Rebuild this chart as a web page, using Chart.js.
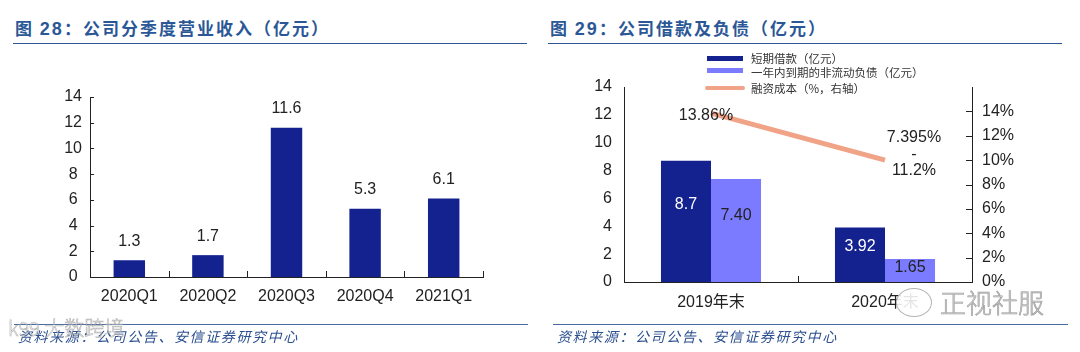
<!DOCTYPE html>
<html><head><meta charset="utf-8">
<script src="https://cdn.jsdelivr.net/npm/chart.js@4"></script>
<style>
body{margin:0;width:1080px;height:352px;background:#fff;position:relative;overflow:hidden;font-family:"Liberation Sans",Arial,"Noto Sans CJK SC",sans-serif;}
.title{position:absolute;top:17px;font-weight:bold;font-size:17px;font-family:"Noto Sans CJK SC",sans-serif;color:#2b5797;letter-spacing:2px;line-height:22px;white-space:nowrap}
.title span{font-family:"Liberation Sans",Arial,sans-serif;font-weight:bold;font-size:18px}
.rule{position:absolute;height:0;border-top:1.5px solid #2b5797}
.frule{position:absolute;height:0;border-top:1px solid #4a6aa5}
.src{position:absolute;top:327px;font-size:14px;line-height:18px;font-style:italic;font-family:"Noto Sans CJK SC",sans-serif;color:#2b4f8f;letter-spacing:1.6px;white-space:nowrap}
.cv{position:absolute;top:50px}
.lgm{position:absolute}
.lgt{position:absolute;font-family:"Noto Sans CJK SC",sans-serif;font-size:11.5px;line-height:14px;color:#333;white-space:nowrap}
.wm{position:absolute;font-family:"Noto Sans CJK SC",sans-serif;font-weight:300;white-space:nowrap}
</style>
</head><body>
<div class="title" style="left:15px">图 <span>28</span>：公司分季度营业收入（亿元）</div>
<div class="rule" style="left:13px;top:43px;width:514px"></div>
<div class="title" style="left:550px">图 <span>29</span>：公司借款及负债（亿元）</div>
<div class="rule" style="left:548px;top:43px;width:514px"></div>

<canvas id="c1" class="cv" width="540" height="280" style="left:0px;width:540px;height:280px"></canvas>
<canvas id="c2" class="cv" width="540" height="280" style="left:540px;width:540px;height:280px"></canvas>
<div id="legend"></div>

<div class="frule" style="left:14px;top:324px;width:514px"></div>
<div class="frule" style="left:553px;top:324px;width:515px"></div>
<div class="src" style="left:18px">资料来源：公司公告、安信证券研究中心</div>
<div class="src" style="left:557px">资料来源：公司公告、安信证券研究中心</div>

<div class="wm" style="left:896px;top:288px;width:34px;height:27px;border:1.5px solid #b5b5b5;border-radius:50%;background:rgba(255,255,255,0.88)"></div>
<div class="wm" style="left:940px;top:286px;font-size:26px;line-height:32px;color:#d0d0d0;-webkit-text-stroke:0.6px #9a9a9a">正视社服</div>
<div class="wm" style="left:8px;top:316px;font-size:20px;line-height:24px;color:rgba(255,255,255,0.5);-webkit-text-stroke:0.6px rgba(130,130,130,0.6)">k99 大数跨境</div>

<script>
// ---------- data ----------
const revCategories = ['2020Q1', '2020Q2', '2020Q3', '2020Q4', '2021Q1'];
const revValues = [1.3, 1.7, 11.6, 5.3, 6.1];
const revLabels = ['1.3', '1.7', '11.6', '5.3', '6.1'];
const revTicks = [0, 2, 4, 6, 8, 10, 12, 14];

const debtCategories = ['2019年末', '2020年末'];
const shortLoans = [8.7, 3.92];
const shortLoanLabels = ['8.7', '3.92'];
const currentNonCurrent = [7.40, 1.65];
const currentNonCurrentLabels = ['7.40', '1.65'];
const financingCost = [13.86, 10.0];
const financingCostLabels = [['13.86%'], ['7.395%', '-', '11.2%']];
const debtTicks = [0, 2, 4, 6, 8, 10, 12, 14];
const costTicks = [0, 2, 4, 6, 8, 10, 12, 14];
const seriesNames = ['短期借款（亿元）', '一年内到期的非流动负债（亿元）', '融资成本（%，右轴）'];

// ---------- styles ----------
const F = '"Liberation Sans", Arial, "Noto Sans CJK SC", sans-serif';
const DARK = '#13228f', LIGHT = '#7b7bff', SALMON = '#f0a386', AX = '#222';

const tickMarks = {
  id: 'tickMarks',
  afterDraw(chart, args, opts) {
    const c = chart.ctx, a = chart.chartArea;
    c.save(); c.strokeStyle = AX; c.lineWidth = 1;
    if (opts.yInward) {
      const s = chart.scales[opts.yInward.id];
      s.ticks.forEach(t => {
        const y = Math.round(s.getPixelForValue(t.value)) + 0.5;
        const x0 = opts.yInward.side === 'left' ? a.left : a.right;
        const d = opts.yInward.side === 'left' ? opts.yInward.len : -opts.yInward.len;
        c.beginPath(); c.moveTo(x0, y); c.lineTo(x0 + d, y); c.stroke();
      });
    }
    if (opts.xBounds) {
      const s = chart.scales.x, n = s.ticks.length;
      for (let i = 0; i <= n; i++) {
        if (opts.xBounds.inner && (i === 0 || i === n)) continue;
        const x = Math.round(a.left + (a.right - a.left) * i / n) + 0.5;
        c.beginPath(); c.moveTo(x, a.bottom); c.lineTo(x, a.bottom - opts.xBounds.len); c.stroke();
      }
    }
    c.restore();
  }
};

const valueLabels = {
  id: 'valueLabels',
  afterDatasetsDraw(chart, args, opts) {
    const c = chart.ctx;
    c.save();
    c.font = '16px ' + F; c.textAlign = 'center'; c.textBaseline = 'middle';
    (opts.sets || []).forEach(st => {
      const meta = chart.getDatasetMeta(st.index);
      meta.data.forEach((el, i) => {
        c.fillStyle = st.color;
        const lines = [].concat(st.labels[i]);
        let x = el.x, y;
        if (st.mode === 'above') y = el.y - 19;
        else if (st.mode === 'inside') y = el.y + (el.base - el.y) * 0.36;
        else { x = el.x + st.offsets[i].dx; y = el.y; }
        lines.forEach((ln, k) => {
          const yy = st.mode === 'point' ? el.y + st.offsets[i].lines[k] : y;
          c.fillText(ln, x, yy);
        });
      });
    });
    c.restore();
  }
};

// ---------- chart 1 ----------
new Chart(document.getElementById('c1'), {
  type: 'bar',
  data: { labels: revCategories, datasets: [{ data: revValues, backgroundColor: DARK, barPercentage: 0.4, categoryPercentage: 1 }] },
  options: {
    responsive: false, animation: false, events: [],
    layout: { padding: { left: 0, right: 57, top: 47, bottom: 0 } },
    plugins: {
      legend: { display: false }, tooltip: { enabled: false },
      tickMarks: { yInward: { id: 'y', side: 'left', len: 4 }, xBounds: { len: 6 } },
      valueLabels: { sets: [{ index: 0, labels: revLabels, color: AX, mode: 'above' }] }
    },
    scales: {
      x: { grid: { display: false, drawTicks: false }, border: { color: AX, width: 1 },
           ticks: { color: AX, font: { size: 16, family: F }, padding: 10 },
           afterFit(s) { s.height = 53; } },
      y: { min: 0, max: 14, grid: { display: false, drawTicks: false }, border: { color: AX, width: 1 },
           afterBuildTicks(s) { s.ticks = revTicks.map(v => ({ value: v })); },
           ticks: { color: AX, font: { size: 16, family: F }, padding: 8, crossAlign: 'center' },
           afterFit(s) { s.width = 90; } }
    }
  },
  plugins: [tickMarks, valueLabels]
});

// ---------- chart 2 ----------
const ch2 = new Chart(document.getElementById('c2'), {
  type: 'bar',
  data: {
    labels: debtCategories,
    datasets: [
      { label: seriesNames[0], data: shortLoans, backgroundColor: DARK, barPercentage: 1, categoryPercentage: 0.575, yAxisID: 'y', order: 2 },
      { label: seriesNames[1], data: currentNonCurrent, backgroundColor: LIGHT, barPercentage: 1, categoryPercentage: 0.575, yAxisID: 'y', order: 2 },
      { label: seriesNames[2], type: 'line', data: financingCost, borderColor: SALMON, borderWidth: 5, pointRadius: 0, fill: false, yAxisID: 'y1', order: 1 }
    ]
  },
  options: {
    responsive: false, animation: false, events: [],
    layout: { padding: { left: 0, right: 0, top: 37, bottom: 0 } },
    plugins: {
      legend: { display: false }, tooltip: { enabled: false },
      tickMarks: { yInward: { id: 'y1', side: 'right', len: 6 }, xBounds: { len: 6, inner: true } },
      valueLabels: { sets: [
        { index: 0, labels: shortLoanLabels, color: '#fff', mode: 'inside' },
        { index: 1, labels: currentNonCurrentLabels, color: AX, mode: 'inside' },
        { index: 2, labels: financingCostLabels, color: AX, mode: 'point',
          offsets: [{ dx: -5, lines: [3] }, { dx: 29, lines: [-23, -6, 10] }] }
      ] }
    },
    scales: {
      x: { grid: { display: false, drawTicks: false }, border: { color: AX, width: 1 },
           ticks: { color: AX, font: { size: 16, family: F }, padding: 11 },
           afterFit(s) { s.height = 48; } },
      y: { position: 'left', min: 0, max: 14, grid: { display: false, drawTicks: false }, border: { color: AX, width: 1 },
           afterBuildTicks(s) { s.ticks = debtTicks.map(v => ({ value: v })); },
           ticks: { color: AX, font: { size: 16, family: F }, padding: 12 },
           afterFit(s) { s.width = 84; } },
      y1: { position: 'right', min: 0, max: 16, grid: { display: false, drawTicks: false }, border: { color: AX, width: 1 },
           afterBuildTicks(s) { s.ticks = costTicks.map(v => ({ value: v })); },
           ticks: { color: AX, font: { size: 16, family: F }, padding: 10, callback: v => v + '%' },
           afterFit(s) { s.width = 108; } }
    }
  },
  plugins: [tickMarks, valueLabels]
});

// ---------- legend (built from chart datasets) ----------
const lg = document.getElementById('legend');
const marks = [
  { left: 707, top: 56, w: 36, h: 5, r: 0 },
  { left: 707, top: 68, w: 36, h: 5, r: 0 },
  { left: 705, top: 86, w: 40, h: 4, r: 2 }
];
const textTops = [51, 65, 81];
ch2.data.datasets.forEach((ds, i) => {
  const m = document.createElement('div');
  m.className = 'lgm';
  const col = ds.type === 'line' ? ds.borderColor : ds.backgroundColor;
  m.style.cssText = `left:${marks[i].left}px;top:${marks[i].top}px;width:${marks[i].w}px;height:${marks[i].h}px;background:${col};border-radius:${marks[i].r}px`;
  lg.appendChild(m);
  const t = document.createElement('div');
  t.className = 'lgt';
  t.style.left = '751px'; t.style.top = textTops[i] + 'px';
  t.textContent = ds.label;
  lg.appendChild(t);
});
</script>
</body></html>
